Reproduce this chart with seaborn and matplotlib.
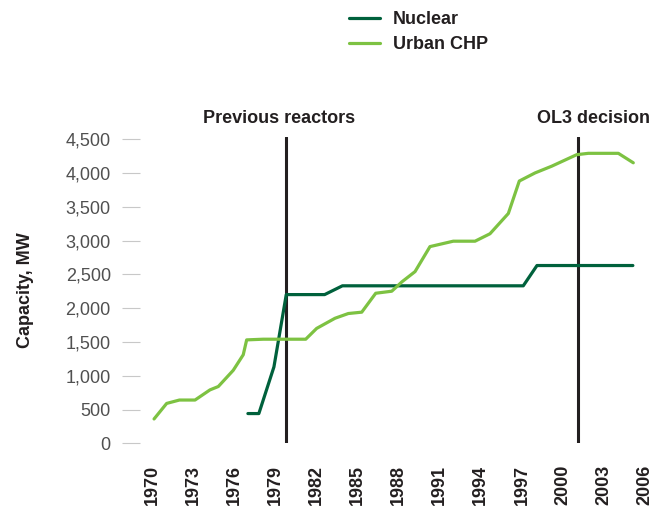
"""
Nuclear vs urban CHP capacity in Finland, 1970-2006.
"""
import matplotlib
matplotlib.use('Agg')
import matplotlib.pyplot as plt
import seaborn as sns
from matplotlib.ticker import FuncFormatter

# data (x positions as plotted, in years)
nuclear_years = [1977.0, 1977.8, 1978.9, 1979.8, 1982.6, 1983.9, 1997.1, 1998.1, 2005.1]
nuclear_mw = [440, 440, 1130, 2200, 2200, 2330, 2330, 2630, 2630]

chp_years = [1970.15, 1971.07, 1972.0, 1973.14, 1974.23, 1974.84, 1975.93, 1976.66,
             1976.91, 1978.12, 1981.22, 1982.02, 1983.36, 1984.33, 1985.31, 1986.33,
             1987.5, 1988.25, 1989.2, 1990.29, 1991.99, 1993.58, 1994.67, 1996.01,
             1996.81, 1997.96, 1999.18, 2001.0, 2001.85, 2004.04, 2005.13]
chp_mw = [360, 590, 640, 640, 790, 840, 1080, 1310, 1530, 1540, 1540, 1700, 1850,
          1920, 1940, 2220, 2250, 2390, 2540, 2910, 2990, 2990, 3100, 3400, 3880,
          4000, 4100, 4270, 4290, 4290, 4150]

event_years = [1979.8, 2001.1]
event_labels = ["Previous reactors", "OL3 decision"]

year_ticks = list(range(1970, 2007, 3))
mw_ticks = list(range(0, 4501, 500))

NUCLEAR_COLOR = "#00613c"
CHP_COLOR = "#7dc242"

sns.set_style("white")
plt.rcParams['font.family'] = ['Liberation Sans', 'DejaVu Sans']

fig = plt.figure(figsize=(6.72, 5.09), dpi=100)
ax = fig.add_axes([140 / 672, 1 - 443.3 / 509, 520 / 672, (443.3 - 137.1) / 509])

sns.lineplot(x=nuclear_years, y=nuclear_mw, color=NUCLEAR_COLOR, lw=2.3,
             label="Nuclear", ax=ax, legend=False)
sns.lineplot(x=chp_years, y=chp_mw, color=CHP_COLOR, lw=2.3,
             label="Urban CHP", ax=ax, legend=False)

# label offsets (points) so the text sits where it does in the original
label_dx = [-5, 11]
for yr, txt, dx in zip(event_years, event_labels, label_dx):
    ax.axvline(yr, color="#231f20", lw=2.2, zorder=1)
    ax.annotate(txt, xy=(yr, 1.0), xycoords=ax.get_xaxis_transform(),
                xytext=(dx, 7), textcoords="offset points", ha="center",
                va="bottom", fontsize=13, fontweight="bold", color="#231f20")

ax.set_xlim(1970 + (140 - 152) / 13.7, 1970 + (660 - 152) / 13.7)
ax.set_ylim(0, 4530)
ax.set_xticks(year_ticks)
ax.set_xticklabels([str(y) for y in year_ticks], rotation=90, fontsize=13,
                   fontweight="bold", color="#231f20")
ax.set_yticks(mw_ticks)
ax.yaxis.set_major_formatter(FuncFormatter(lambda v, p: f"{int(v):,}"))
ax.tick_params(axis="y", left=True, length=13, width=0.8, color="#c8c8c8",
               pad=8, labelsize=13, labelcolor="#505050")
ax.tick_params(axis="x", bottom=False, pad=12)
for s in ax.spines.values():
    s.set_visible(False)

ax.set_xlabel("")
ax.set_ylabel("Capacity, MW", fontsize=13, fontweight="bold", color="#231f20",
              labelpad=23)

handles, labels = ax.get_legend_handles_labels()
leg = fig.legend(handles, labels, loc="upper left",
                 bbox_to_anchor=(349 / 672, 1 - 11 / 509), frameon=False,
                 fontsize=13, handlelength=1.7, handletextpad=0.75,
                 labelspacing=0.45, borderpad=0, borderaxespad=0)
for t in leg.get_texts():
    t.set_fontweight("bold")
    t.set_color("#231f20")

fig.savefig("out.png", dpi=100)
plt.close(fig)
